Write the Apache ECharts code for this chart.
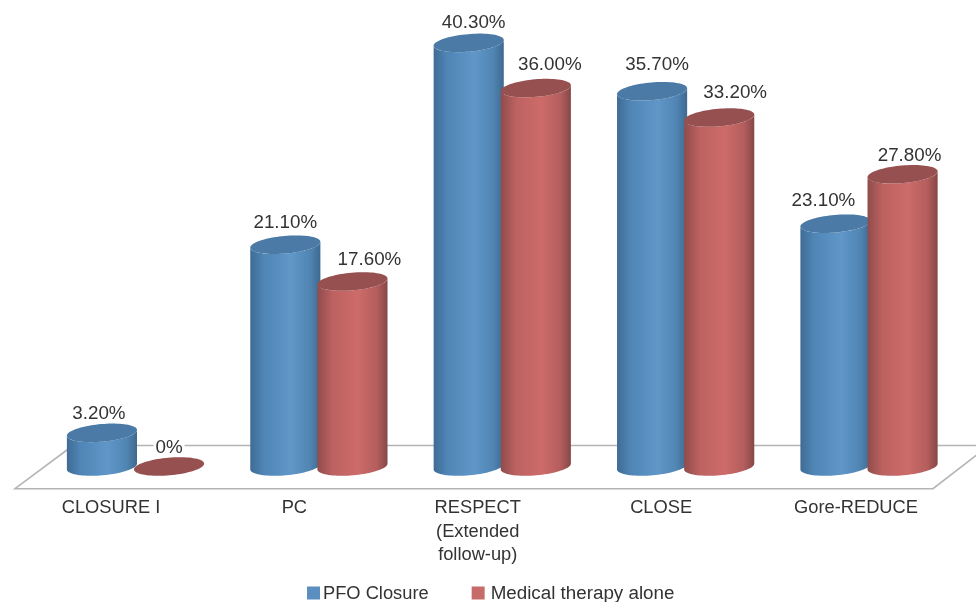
<!DOCTYPE html>
<html>
<head>
<meta charset="utf-8">
<style>html,body{margin:0;background:#fff}#chart{width:976px;height:602px}</style>
<script src="https://cdn.jsdelivr.net/npm/echarts@6/dist/echarts.min.js"></script>
</head>
<body>
<div id="chart"></div>
<script>
const categories = ['CLOSURE I', 'PC', 'RESPECT\n(Extended\nfollow-up)', 'CLOSE', 'Gore-REDUCE'];
const pfoClosure = [3.2, 21.1, 40.3, 35.7, 23.1];
const medicalTherapy = [0, 17.6, 36.0, 33.2, 27.8];

// Hand-placed value label nudges in px, one per category.
const pfoLabelNudge = [[-3, -19], [0, -22], [5, -20], [5, -26], [-12, -23]];
const medLabelNudge = [[0, -19], [17, -22], [14, -23], [16, -25], [7, -18]];

const FONT = '"Liberation Sans", Arial, sans-serif';
const VALUE_SIZE = 18.8;
const TICK_SIZE = 18.3;
const TILT = -5 * Math.PI / 180;

const ellipsePoint = (cx, cy, a, b, t) => [
  cx + a * Math.cos(t) * Math.cos(TILT) - b * Math.sin(t) * Math.sin(TILT),
  cy + a * Math.cos(t) * Math.sin(TILT) + b * Math.sin(t) * Math.cos(TILT)
];

const sampleArc = (cx, cy, a, b, from, to, n) => {
  const pts = [];
  for (let i = 0; i <= n; i++) pts.push(ellipsePoint(cx, cy, a, b, from + (to - from) * i / n));
  return pts;
};

const formatValue = v => (v === 0 ? '0%' : v.toFixed(2) + '%');

function cylinder(side, bodyStops, capColor, nudges) {
  return function (params, api) {
    const cat = api.value(0), val = api.value(1);
    const top = api.coord([cat, val]);
    const base = api.coord([cat, 0]);
    const band = api.size([1, 0])[0];
    const cx = top[0] + side * band * 0.183;
    const a = band * 0.192, b = 8.8;
    // Parameter at which the tilted ellipse has its vertical tangent.
    const t0 = Math.atan(-(b / a) * Math.tan(TILT));
    const lowerBase = sampleArc(cx, base[1], a, b, Math.PI - t0, t0, 40);
    const lowerTop = sampleArc(cx, top[1], a, b, t0, Math.PI - t0, 40);
    const children = [];
    if (val > 0) {
      children.push({
        type: 'polygon',
        shape: { points: lowerBase.concat(lowerTop) },
        style: { fill: new echarts.graphic.LinearGradient(0, 0, 1, 0, bodyStops) }
      });
    }
    children.push({
      type: 'polygon',
      shape: { points: sampleArc(cx, top[1], a, b, 0, Math.PI * 2, 80) },
      style: { fill: capColor }
    });
    const n = nudges[cat];
    children.push({
      type: 'text',
      z2: 10,
      style: {
        text: formatValue(val),
        x: cx + n[0],
        y: top[1] + n[1],
        align: 'center',
        verticalAlign: 'middle',
        fill: '#333',
        font: VALUE_SIZE + 'px ' + FONT,
        backgroundColor: val === 0 ? '#fff' : 'transparent',
        padding: val === 0 ? [0, 2] : 0
      }
    });
    return { type: 'group', children };
  };
}

const blueStops = [
  { offset: 0, color: '#3f6c95' }, { offset: 0.2, color: '#5086b6' },
  { offset: 0.58, color: '#6097c9' }, { offset: 0.85, color: '#5085b3' },
  { offset: 1, color: '#3e6990' }
];
const redStops = [
  { offset: 0, color: '#8f4c4c' }, { offset: 0.22, color: '#bd6261' },
  { offset: 0.58, color: '#cd6b69' }, { offset: 0.85, color: '#b45e5d' },
  { offset: 1, color: '#864747' }
];

const tickStyle = paddingRight => ({
  fontFamily: FONT, fontSize: TICK_SIZE, color: '#333', lineHeight: 23.5,
  padding: [0, paddingRight, 0, 0], align: 'center'
});

const chart = echarts.init(document.getElementById('chart'), null, { renderer: 'canvas' });

chart.setOption({
  animation: false,
  backgroundColor: '#fff',
  grid: { left: 43.8, right: 15.3, top: 4, bottom: 135.5 },
  xAxis: {
    type: 'category',
    data: categories,
    axisLine: { show: false },
    axisTick: { show: false },
    axisLabel: {
      interval: 0,
      margin: 30,
      formatter: (v, i) => (i === 4 ? '{last|' + v + '}' : '{std|' + v + '}'),
      rich: { std: tickStyle(49), last: tickStyle(26) }
    }
  },
  yAxis: { type: 'value', min: 0, max: 44, show: false },
  legend: {
    top: 579,
    left: 302,
    itemWidth: 13,
    itemHeight: 13,
    itemGap: 43,
    icon: 'rect',
    formatter: name => (name === 'PFO Closure' ? '{a|' + name + '}' : '{b|' + name + '}'),
    textStyle: {
      rich: {
        a: { fontFamily: FONT, fontSize: 18.3, color: '#333', padding: [1, 0, 0, -2] },
        b: { fontFamily: FONT, fontSize: 18.8, color: '#333', padding: [1, 0, 0, 1] }
      }
    },
    data: ['PFO Closure', 'Medical therapy alone']
  },
  graphic: {
    elements: [
      // Floor of the plot, drawn behind the cylinders.
      {
        type: 'polyline', silent: true, z: 0,
        shape: { points: [[73, 445.5], [989, 445.5]] },
        style: { stroke: '#b4b4b4', lineWidth: 1.5, fill: null }
      },
      {
        type: 'polyline', silent: true, z: 0,
        shape: { points: [[73, 445.5], [15, 488.7], [933, 488.7], [989, 445.5]] },
        style: { stroke: '#b4b4b4', lineWidth: 1.6, fill: null }
      }
    ]
  },
  series: [
    {
      name: 'PFO Closure',
      type: 'custom',
      clip: false,
      z: 3,
      itemStyle: { color: '#5a8fc0' },
      encode: { x: 0, y: 1 },
      data: pfoClosure.map((v, i) => [i, v]),
      renderItem: cylinder(-1, blueStops, '#4a7aa5', pfoLabelNudge)
    },
    {
      name: 'Medical therapy alone',
      type: 'custom',
      clip: false,
      z: 4,
      itemStyle: { color: '#c66a6a' },
      encode: { x: 0, y: 1 },
      data: medicalTherapy.map((v, i) => [i, v]),
      renderItem: cylinder(1, redStops, '#975050', medLabelNudge)
    }
  ]
});
</script>
</body>
</html>
